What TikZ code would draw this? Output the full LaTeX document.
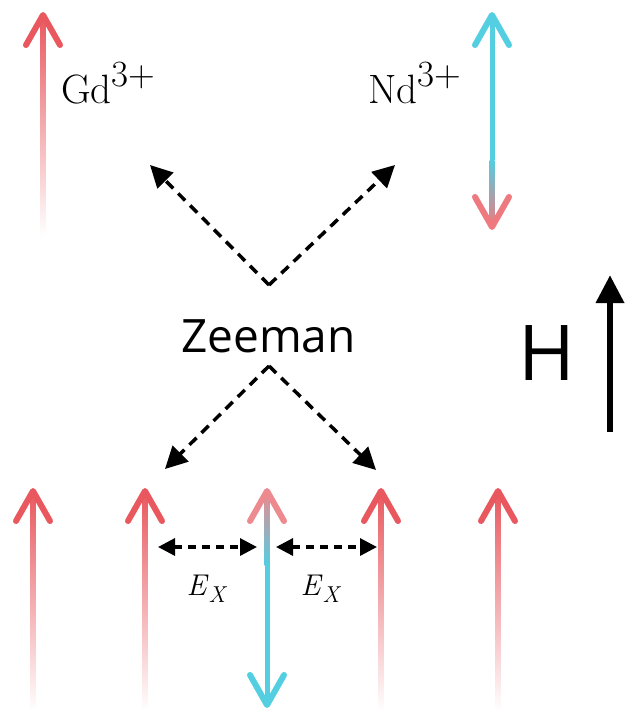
\documentclass[tikz,border=0pt]{standalone}
\usepackage{fontspec}
\newfontfamily\labelfont{Open Sans}
\usetikzlibrary{arrows.meta}

\definecolor{spinred}{RGB}{232,88,94}
\definecolor{spinpink}{RGB}{236,138,143}
\definecolor{spinrose}{RGB}{238,122,127}
\definecolor{spincyan}{RGB}{84,206,225}

\newcommand{\ionname}[1]{#1\raisebox{17pt}{\fontsize{37}{42}\selectfont 3+}}
\newcommand{\exname}{\textit{E}\raisebox{-7pt}{\fontsize{23}{26}\selectfont\textit{X}}}

\tikzset{
  spinhead/.style={line width=6pt, line cap=round, line join=round},
  zeemanline/.style={line width=3.5pt, dash pattern=on 10pt off 7pt,
    -{Triangle[length=22pt,width=22pt]}},
  gapline/.style={line width=3.2pt, dash pattern=on 8pt off 6pt,
    {Triangle[length=17pt,width=17pt]}-{Triangle[length=17pt,width=17pt]}},
  ionlabel/.style={inner sep=0pt, font=\fontsize{41}{48}\selectfont},
  exlabel/.style={inner sep=0pt, font=\fontsize{30}{34}\selectfont},
}

\begin{document}
\begin{tikzpicture}[x=1pt, y=-1pt]
  \useasboundingbox (0,0) rectangle (628,709);

  % Single ions
  \shade[top color=spinred, bottom color=white] (40.5,15) rectangle (45.5,236);
  \draw[spinhead, spinred] (26,45) -- (43,15) -- (60,45);
  \node[ionlabel, anchor=base west] (gd) at (61,103) {\ionname{Gd}};

  \fill[spincyan] (489.5,15) rectangle (494.5,160);
  \shade[top color=spincyan, bottom color=spinrose] (489.5,160) rectangle (494.5,227);
  \draw[spinhead, spincyan] (475,45) -- (492,15) -- (509,45);
  \draw[spinhead, spinrose] (475,197) -- (492,227) -- (509,197);
  \node[ionlabel, anchor=base west] (nd) at (368,103) {\ionname{Nd}};

  % Zeeman splitting
  \node[inner sep=0pt, font=\labelfont\fontsize{46}{54}\selectfont] (zeeman) at (268.5,336) {Zeeman};
  \coordinate (uptop) at (269,285);
  \coordinate (downtop) at (269,366);
  \coordinate (gdtip) at (150,165);
  \coordinate (ndtip) at (395,165);
  \coordinate (lefttip) at (165,469);
  \coordinate (righttip) at (376,470);
  \draw[zeemanline] (uptop) -- (gdtip);
  \draw[zeemanline] (uptop) -- (ndtip);
  \draw[zeemanline] (downtop) -- (lefttip);
  \draw[zeemanline] (downtop) -- (righttip);

  % Field
  \node[inner sep=0pt, anchor=base, font=\labelfont\fontsize{77}{90}\selectfont] (field) at (547,380) {H};
  \coordinate (fieldtail) at (610,432);
  \coordinate (fieldtip) at (610,275);
  \draw[line width=6.5pt, -{Triangle[length=28pt,width=27pt]}] (fieldtail) -- (fieldtip);

  % Chain
  \foreach \x in {33,145,381,498} {
    \shade[top color=spinred, bottom color=white] (\x-2.5,491) rectangle (\x+2.5,711);
    \draw[spinhead, spinred] (\x-17,521) -- (\x,491) -- (\x+17,521);
  }
  \shade[top color=spinpink, bottom color=spincyan] (264.5,491) rectangle (269.5,565);
  \fill[spincyan] (264.5,565) rectangle (269.5,705);
  \draw[spinhead, spinpink] (250,521) -- (267,491) -- (284,521);
  \draw[spinhead, spincyan] (250,675) -- (267,705) -- (284,675);

  % Exchange
  \coordinate (gapaleft) at (158,547);
  \coordinate (gaparight) at (257,547);
  \coordinate (gapbleft) at (276,547);
  \coordinate (gapbright) at (377,547);
  \draw[gapline] (gapaleft) -- (gaparight);
  \draw[gapline] (gapbleft) -- (gapbright);
  \node[exlabel, anchor=base] (exa) at (207,595) {\exname};
  \node[exlabel, anchor=base] (exb) at (321,595) {\exname};
\end{tikzpicture}
\end{document}
